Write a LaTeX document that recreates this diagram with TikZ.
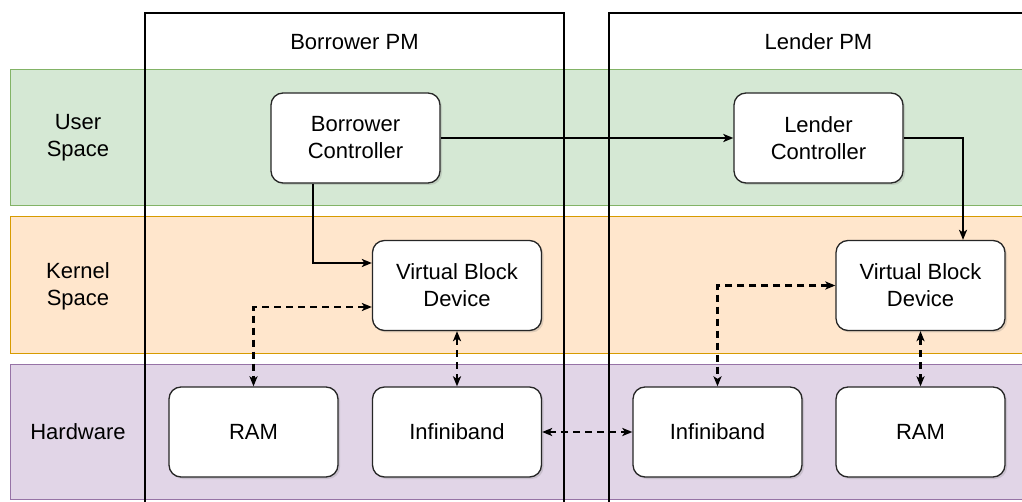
\documentclass[tikz,border=0pt]{standalone}
\usepackage{fontspec}
\setmainfont{Liberation Sans}
\usetikzlibrary{arrows.meta,shadows}
\definecolor{userfill}{HTML}{D5E8D4}
\definecolor{userline}{HTML}{82B366}
\definecolor{kernfill}{HTML}{FFE6CC}
\definecolor{kernline}{HTML}{D79B00}
\definecolor{hwfill}{HTML}{E1D5E7}
\definecolor{hwline}{HTML}{9673A6}
\tikzset{
  band/.style={line width=1pt},
  pmbox/.style={draw=black, line width=2pt},
  proc/.style={draw=black!85, line width=1.3pt, fill=white, rounded corners=12pt,
    minimum width=169pt, minimum height=90pt, align=center, inner sep=0pt,
    font=\fontsize{22}{27}\selectfont,
    drop shadow={opacity=0.25, shadow xshift=2pt, shadow yshift=-2pt}},
  lbl/.style={align=center, font=\fontsize{22}{27}\selectfont},
  flow/.style={draw=black, line width=2pt, -{Stealth[length=10pt,width=8pt,inset=2.5pt]}},
  dflow/.style={draw=black, line width=2.2pt, dash pattern=on 7pt off 5pt,
    {Stealth[length=10pt,width=8pt,inset=2.5pt]}-{Stealth[length=10pt,width=8pt,inset=2.5pt]}}
}
\begin{document}
\begin{tikzpicture}[x=1pt,y=-1pt]
\useasboundingbox (0,0) rectangle (1022,502);
\clip (0,0) rectangle (1022,502);
\fill[white] (0,0) rectangle (1022,502);

% layer bands
\filldraw[band, fill=userfill, draw=userline] (10.5,70) rectangle (1040,206);
\filldraw[band, fill=kernfill, draw=kernline] (10.5,217) rectangle (1040,353);
\filldraw[band, fill=hwfill, draw=hwline] (10.5,364) rectangle (1040,499);

\node[lbl] (lu) at (78,138) {User\\Space};
\node[lbl] (lk) at (78,286) {Kernel\\Space};
\node[lbl] (lh) at (78,432) {Hardware};

% physical machines
\draw[pmbox] (145,13.5) rectangle (564,530);
\draw[pmbox] (609,13.5) rectangle (1050,530);
\node[lbl] (bpm) at (354.5,42) {Borrower PM};
\node[lbl] (lpm) at (818.5,42) {Lender PM};

% components
\node[proc] (bc)   at (355.5,138) {Borrower\\Controller};
\node[proc] (lc)   at (818.5,138) {Lender\\Controller};
\node[proc] (vbdL) at (457,285.5) {Virtual Block\\Device};
\node[proc] (vbdR) at (920.5,285.5) {Virtual Block\\Device};
\node[proc] (ramL) at (253.5,432) {RAM};
\node[proc] (ibL)  at (457,432) {Infiniband};
\node[proc] (ibR)  at (717.5,432) {Infiniband};
\node[proc] (ramR) at (920.5,432) {RAM};

% control path
\draw[flow] ([xshift=-43pt]bc.south) |- ([yshift=22.5pt]vbdL.west);
\draw[flow] (bc.east) -- (lc.west);
\draw[flow] (lc.east) -| ([xshift=42.5pt]vbdR.north);

% data path
\draw[dflow] ([yshift=-21.5pt]vbdL.west) -| (ramL.north);
\draw[dflow] (vbdL.south) -- (ibL.north);
\draw[dflow] (ibL.east) -- (ibR.west);
\draw[dflow] (vbdR.west) -| (ibR.north);
\draw[dflow] (vbdR.south) -- (ramR.north);
\end{tikzpicture}
\end{document}
